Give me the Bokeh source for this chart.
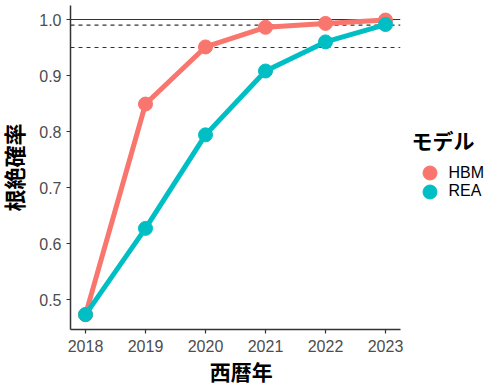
from bokeh.plotting import figure
from bokeh.layouts import row, column
from bokeh.models import Range1d, FixedTicker, Span, Legend, LegendItem, Label
from bokeh.embed import file_html
from bokeh.resources import INLINE

# ---- data ----
years = [2018, 2019, 2020, 2021, 2022, 2023]
hbm = [0.473, 0.849, 0.951, 0.986, 0.993, 0.999]
rea = [0.473, 0.627, 0.794, 0.908, 0.960, 0.991]
models = ["HBM", "REA"]
colors = ["#F8766D", "#00BFC4"]
y_ticks = [0.5, 0.6, 0.7, 0.8, 0.9, 1.0]
y_tick_labels = ["0.5", "0.6", "0.7", "0.8", "0.9", "1.0"]
ref_solid = [1.0]
ref_dashed = [0.99, 0.95]
x_title = "西暦年"
y_title = "根絶確率"
legend_title = "モデル"

CJK = "Liberation Sans, Noto Sans CJK JP"
series = [hbm, rea]

TOTAL_W, TOTAL_H = 487, 385
MAIN_W, MAIN_H = 404, 358

# ---------------- main panel ----------------
p = figure(width=MAIN_W, height=MAIN_H, output_backend="svg", toolbar_location=None,
           x_range=Range1d(2017.75, 2023.25), y_range=Range1d(0.446429, 1.025),
           min_border_left=70, min_border_right=4, min_border_top=5,
           min_border_bottom=29)
p.outline_line_color = None
p.grid.visible = False
p.background_fill_color = "white"
p.border_fill_color = "white"

for loc in ref_solid:
    p.add_layout(Span(location=loc, dimension="width", line_color="#333333",
                      line_width=1.1, level="underlay"))
for loc in ref_dashed:
    p.add_layout(Span(location=loc, dimension="width", line_color="#333333",
                      line_width=1.1, line_dash="4 4", level="underlay"))

for vals, c in zip(series, colors):
    p.line(years, vals, line_color=c, line_width=5)
for vals, c in zip(series, colors):
    p.scatter(years, vals, size=14, fill_color=c, line_color=c)

for ax in (p.xaxis[0], p.yaxis[0]):
    ax.axis_line_color = "#333333"
    ax.axis_line_width = 1.5
    ax.major_tick_line_color = "#333333"
    ax.major_tick_line_width = 1.2
    ax.major_tick_out = 4
    ax.major_tick_in = 0
    ax.minor_tick_line_color = None
    ax.major_label_text_font = "Liberation Sans"
    ax.major_label_text_font_size = "16px"
    ax.major_label_text_color = "#4D4D4D"

p.xaxis.ticker = FixedTicker(ticks=years)
p.xaxis.major_label_standoff = 6

p.yaxis.ticker = FixedTicker(ticks=y_ticks)
p.yaxis.major_label_overrides = {t: l for t, l in zip(y_ticks, y_tick_labels)}
p.yaxis.major_label_standoff = 5
p.yaxis.axis_label = y_title
p.yaxis.axis_label_standoff = 8
p.yaxis.axis_label_text_font = CJK
p.yaxis.axis_label_text_font_size = "22px"
p.yaxis.axis_label_text_font_style = "bold"
p.yaxis.axis_label_text_color = "black"

# ---------------- x-axis title strip ----------------
STRIP_H = TOTAL_H - MAIN_H
p3 = figure(width=MAIN_W, height=STRIP_H, output_backend="svg", toolbar_location=None,
            x_range=Range1d(0, MAIN_W), y_range=Range1d(0, STRIP_H),
            x_axis_location=None, y_axis_location=None,
            min_border_left=0, min_border_right=0, min_border_top=0,
            min_border_bottom=0)
p3.outline_line_color = None
p3.grid.visible = False
p3.add_layout(Label(x=209, y=STRIP_H - 14, text=x_title, text_align="center",
                    text_baseline="middle", text_font=CJK, text_font_size="21px",
                    text_font_style="bold", text_color="black"))

# ---------------- legend strip ----------------
LEG_W = TOTAL_W - MAIN_W
p2 = figure(width=LEG_W, height=TOTAL_H, output_backend="svg", toolbar_location=None,
            x_range=Range1d(0, 1), y_range=Range1d(0, 1),
            x_axis_location=None, y_axis_location=None,
            min_border_left=0, min_border_right=0, min_border_top=0,
            min_border_bottom=0)
p2.outline_line_color = None
p2.grid.visible = False
keys = [p2.scatter(years, vals, size=14, fill_color=c, line_color=c)
        for vals, c in zip(series, colors)]

common = dict(label_text_font="Liberation Sans", label_text_font_size="16px",
              label_text_color="black", label_standoff=2,
              glyph_width=35, glyph_height=35, spacing=0,
              padding=0, margin=0, border_line_color=None,
              background_fill_alpha=0)
legA = Legend(items=[LegendItem(label=models[0], renderers=[keys[0]])],
              location=(7.5, TOTAL_H - 190), title=legend_title,
              title_text_font=CJK, title_text_font_size="21px",
              title_text_font_style="bold", title_text_color="black",
              title_standoff=-4, **common)
legB = Legend(items=[LegendItem(label=models[1], renderers=[keys[1]])],
              location=(7.5, TOTAL_H - 208.5), **common)
p2.add_layout(legA, "center")
p2.add_layout(legB, "center")

layout = row(column(p, p3), p2)
open("out.html", "w").write(file_html(layout, INLINE))
